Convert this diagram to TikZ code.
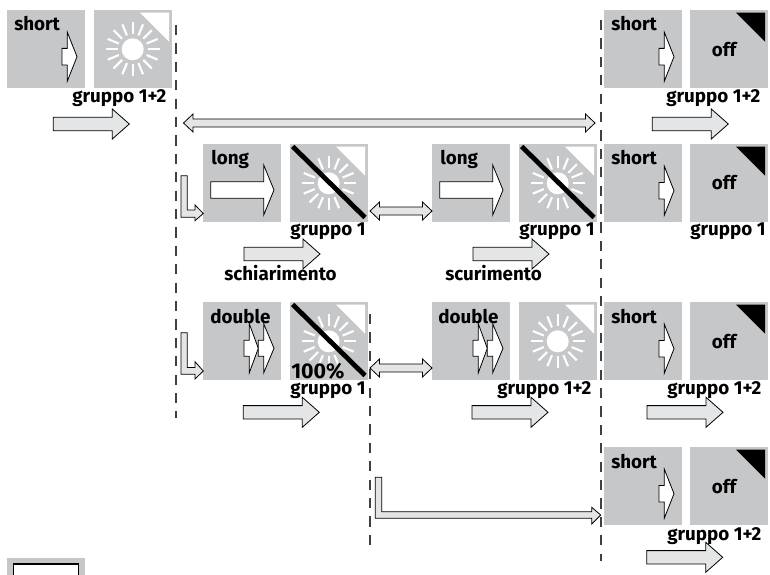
\documentclass[tikz,border=0pt]{standalone}
\usepackage{fontspec}
\setmainfont{Fira Sans}[BoldFont={Fira Sans Bold}]
\definecolor{panel}{HTML}{C6C7C9}
\definecolor{flow}{HTML}{E4E5E6}
\tikzset{
  x=0.75pt,y=-0.75pt,
  panel/.style={fill=panel,draw=none,minimum width=58.5pt,minimum height=58.5pt,inner sep=0pt,outer sep=0pt,anchor=north west},
  lbl/.style={font=\bfseries\fontsize{14.1pt}{15pt}\selectfont,inner sep=0pt,text=black},
  outl/.style={draw=black,line width=0.6pt,line join=miter},
  dashline/.style={draw=black!75,line width=1pt,dash pattern=on 7.6pt off 6.2pt},
  conn/.style={outl,fill=white}
}
\newcommand{\blockarrow}[7]{\path[outl,fill=#7] (#1,#4-#5) -- (#2,#4-#5) -- (#2,#4-#6) -- (#3,#4) -- (#2,#4+#6) -- (#2,#4+#5) -- (#1,#4+#5) -- cycle;}
\newcommand{\flowarrow}[2]{\blockarrow{#1}{#1+59}{#1+76}{#2}{6.7}{15}{flow}}
\newcommand{\shortarrow}[2]{\blockarrow{#1+55}{#1+60.3}{#1+70}{#2+46.7}{8.3}{24.5}{white}}
\newcommand{\longarrow}[2]{\blockarrow{#1+7.7}{#1+60.7}{#1+71}{#2+46}{8.3}{25}{white}}
\newcommand{\doublearrow}[2]{%
  \blockarrow{#1+41}{#1+46.3}{#1+55.3}{#2+46.3}{8}{24.5}{white}
  \blockarrow{#1+55.3}{#1+60.7}{#1+71}{#2+46.3}{8}{24.5}{white}}
\newcommand{\sunicon}[2]{%
  \fill[white] (#1+46,#2+2.7) -- (#1+75,#2+2.7) -- (#1+75,#2+31.7) -- cycle;
  \fill[white] (#1+38.7,#2+39.3) circle[radius=11];
  \foreach \a in {0,22.5,...,337.5}
    \draw[white,line width=1.6pt] ($(#1+38.7,#2+39.3)+(\a:15)$) -- ($(#1+38.7,#2+39.3)+(\a:27)$);}
\newcommand{\slashline}[2]{\draw[black,line width=3.6pt] (#1+2.7,#2+2.5) -- (#1+75,#2+73.5);}
\newcommand{\officon}[2]{\fill[black] (#1+46,#2+2.7) -- (#1+75,#2+2.7) -- (#1+75,#2+31.7) -- cycle;}
\newcommand{\hdouble}[3]{\path[outl,fill=flow] (#1,#3) -- (#1+9.5,#3-9) -- (#1+9.5,#3-4) -- (#2-9.5,#3-4) -- (#2-9.5,#3-9) -- (#2,#3) -- (#2-9.5,#3+9) -- (#2-9.5,#3+4) -- (#1+9.5,#3+4) -- (#1+9.5,#3+9) -- cycle;}
\usetikzlibrary{calc}
\begin{document}
\begin{tikzpicture}
\useasboundingbox (0,0) rectangle (770,574);
\node[panel] (a1) at (7,10) {};
\node[panel] (a2) at (94,10) {};
\node[panel] (r1a) at (604,10) {};
\node[panel] (r1b) at (690,10) {};
\node[panel] (r2a) at (604,144) {};
\node[panel] (r2b) at (690,144) {};
\node[panel] (b1) at (203,144) {};
\node[panel] (b2) at (290,144) {};
\node[panel] (b3) at (432,144) {};
\node[panel] (b4) at (519,144) {};
\node[panel] (c1) at (203,302) {};
\node[panel] (c2) at (290,302) {};
\node[panel] (c3) at (432,302) {};
\node[panel] (c4) at (519,302) {};
\node[panel] (r3a) at (604,302) {};
\node[panel] (r3b) at (690,302) {};
\node[panel] (r4a) at (604,447) {};
\node[panel] (r4b) at (690,447) {};
\begin{scope}
\clip (0,0) rectangle (770,574);
\fill[panel] (7,558) rectangle (85,600);
\draw[black,line width=0.8pt,fill=white] (13.5,564) rectangle (78.5,600);
\end{scope}
\coordinate (d1a) at (176,25); \coordinate (d1b) at (176,418);
\coordinate (d2a) at (370,314); \coordinate (d2b) at (370,553);
\coordinate (d3a) at (601,20); \coordinate (d3b) at (601,561);
\draw[dashline] (d1a) -- (d1b);
\draw[dashline] (d2a) -- (d2b);
\draw[dashline] (d3a) -- (d3b);
\sunicon{94}{10}
\sunicon{290}{144}\slashline{290}{144}
\sunicon{519}{144}\slashline{519}{144}
\sunicon{290}{302}\slashline{290}{302}
\sunicon{519}{302}
\officon{690}{10}\officon{690}{144}\officon{690}{302}\officon{690}{447}
\shortarrow{7}{10}\shortarrow{604}{10}\shortarrow{604}{144}\shortarrow{604}{302}\shortarrow{604}{447}
\longarrow{203}{144}\longarrow{432}{144}
\doublearrow{203}{302}\doublearrow{432}{302}
\flowarrow{53.3}{124}
\flowarrow{652.3}{124}
\flowarrow{244}{254}
\flowarrow{473}{254}
\flowarrow{243.3}{412.3}
\flowarrow{472}{412.3}
\flowarrow{647}{412.3}
\flowarrow{646.7}{557.3}
\hdouble{183.5}{595}{123}
\hdouble{370}{432}{211}
\hdouble{370}{432}{368}
\path[outl,fill=flow] (181,175.7) -- (187.3,175.7) -- (187.3,210) -- (195,210) -- (195,205) -- (203.3,213.5) -- (195,220.7) -- (195,217.3) -- (181,217.3) -- cycle;
\path[outl,fill=flow] (181,332.7) -- (187.3,332.7) -- (187.3,367.5) -- (195,367.5) -- (195,361.7) -- (203.3,371) -- (195,379) -- (195,374.3) -- (181,374.3) -- cycle;
\path[outl,fill=flow] (375.3,477.3) -- (381.7,477.3) -- (381.7,511.7) -- (591.7,511.7) -- (591.7,507.3) -- (600.7,515) -- (591.7,524) -- (591.7,518.3) -- (375.3,518.3) -- cycle;
\node[lbl,anchor=base west] (t1) at (14,31) {short};
\node[lbl,anchor=base west] (t2) at (611,31) {short};
\node[lbl,anchor=base west] (t3) at (611,164) {short};
\node[lbl,anchor=base west] (t4) at (611,323) {short};
\node[lbl,anchor=base west] (t5) at (611,468) {short};
\node[lbl,anchor=base west] (t6) at (211,164) {long};
\node[lbl,anchor=base west] (t7) at (440,164) {long};
\node[lbl,anchor=base west] (t8) at (210,323) {double};
\node[lbl,anchor=base west] (t9) at (438,323) {double};
\node[lbl,anchor=base] (o1) at (724,57) {off};
\node[lbl,anchor=base] (o2) at (724,190) {off};
\node[lbl,anchor=base] (o3) at (724,348) {off};
\node[lbl,anchor=base] (o4) at (724,493) {off};
\node[lbl,anchor=base west] (g1) at (72,103) {gruppo 1+2};
\node[lbl,anchor=base west] (g2) at (666,103) {gruppo 1+2};
\node[lbl,anchor=base west] (g3) at (290,235) {gruppo 1};
\node[lbl,anchor=base west] (g4) at (519,235) {gruppo 1};
\node[lbl,anchor=base west] (g5) at (690,235) {gruppo 1};
\node[lbl,anchor=base west] (g6) at (290,394) {gruppo 1};
\node[lbl,anchor=base west] (g7) at (497,394) {gruppo 1+2};
\node[lbl,anchor=base west] (g8) at (667,394) {gruppo 1+2};
\node[lbl,anchor=base west] (g9) at (667,540) {gruppo 1+2};
\node[lbl,anchor=base west] (p1) at (291,378) {\fontsize{16pt}{17pt}\selectfont 100\%};
\node[lbl,anchor=base west] (s1) at (224,280) {schiarimento};
\node[lbl,anchor=base west] (s2) at (445,280) {scurimento};
\end{tikzpicture}
\end{document}
